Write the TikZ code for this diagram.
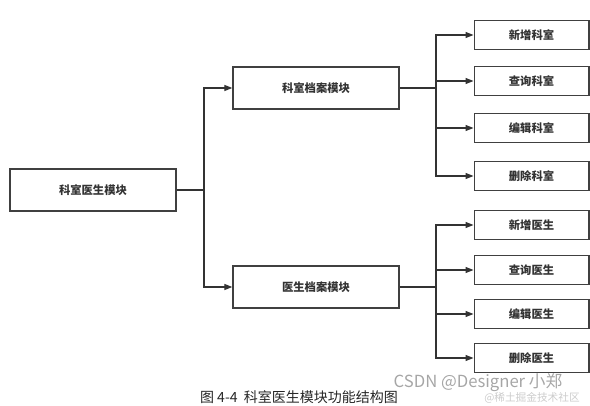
\documentclass[tikz,border=0pt]{standalone}
\usepackage{fontspec}
\setmainfont{Noto Sans CJK SC}
\usetikzlibrary{arrows.meta}

\tikzstyle{module}=[draw=black!75,line width=1pt,minimum width=124.5pt,minimum height=31.5pt,inner sep=0pt,font=\fontsize{8.5}{10}\selectfont\bfseries,text=black!80]
\tikzstyle{func}=[draw=black!75,line width=1pt,minimum width=86pt,minimum height=21.75pt,inner sep=0pt,font=\fontsize{8.5}{10}\selectfont\bfseries,text=black!80]
\tikzstyle{wire}=[draw=black!80,line width=0.9pt]
\tikzstyle{arrow}=[wire,-{Triangle[length=6pt,width=4.5pt]}]

\begin{document}
\begin{tikzpicture}[x=0.75pt,y=-0.75pt]

   \useasboundingbox (0,0) rectangle (590,406);

   % Root module
   \node[module] (kys) at (93,190) {科室医生模块};
   \coordinate (kysj) at (204,190);

   % Department records
   \node[module] (ksda) at (316,88) {科室档案模块};
   \coordinate (ksdaj) at (436,88);

   \node[func] (xzks) at (531.5,35) {新增科室};
   \node[func] (cxks) at (531.5,81) {查询科室};
   \node[func] (bjks) at (531.5,128) {编辑科室};
   \node[func] (scks) at (531.5,176) {删除科室};

   % Doctor records
   \node[module] (ysda) at (316,287) {医生档案模块};
   \coordinate (ysdaj) at (436,287);

   \node[func] (xzys) at (531.5,225) {新增医生};
   \node[func] (cxys) at (531.5,270) {查询医生};
   \node[func] (bjys) at (531.5,314) {编辑医生};
   \node[func] (scys) at (531.5,358) {删除医生};

   % Caption and watermark
   \node[font=\fontsize{10.5}{11}\selectfont,text=black!85,inner sep=1pt] (cap) at (299,397) {图\ 4-4\ \ 科室医生模块功能结构图};
   \node[font=\fontsize{12.5}{14}\selectfont,text=black!35,inner sep=1pt] (wm) at (478,383) {CSDN @Designer 小郑};
   \node[font=\fontsize{8}{9}\selectfont,text=black!20,inner sep=1pt] (wm2) at (532,398) {@稀土掘金技术社区};

   % Connectors
   \draw[wire] (kys.east) -- (kysj);
   \draw[arrow] (kysj) |- (ksda.west);
   \draw[arrow] (kysj) |- (ysda.west);

   \draw[wire] (ksda.east) -- (ksdaj);
   \draw[arrow] (ksdaj) |- (xzks.west);
   \draw[arrow] (ksdaj) |- (cxks.west);
   \draw[arrow] (ksdaj) |- (bjks.west);
   \draw[arrow] (ksdaj) |- (scks.west);

   \draw[wire] (ysda.east) -- (ysdaj);
   \draw[arrow] (ysdaj) |- (xzys.west);
   \draw[arrow] (ysdaj) |- (cxys.west);
   \draw[arrow] (ysdaj) |- (bjys.west);
   \draw[arrow] (ysdaj) |- (scys.west);

\end{tikzpicture}
\end{document}
